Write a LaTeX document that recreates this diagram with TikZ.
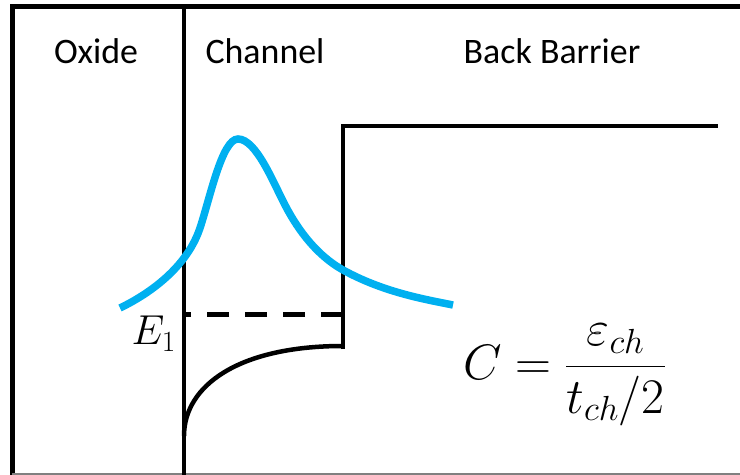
\RequirePackage{fix-cm}
\documentclass[tikz,border=0pt]{standalone}
\usepackage{amsmath}
\usepackage{fontspec}
\setmainfont{Carlito}
\usetikzlibrary{positioning,calc}
\definecolor{wfblue}{RGB}{0,176,240}
\tikzset{
	band/.style={line width=4.5bp, black},
	wave/.style={line width=7.5bp, wfblue},
	region/.style={font=\fontsize{36}{40}\selectfont, inner sep=0pt, anchor=base},
	mathlabel/.style={inner sep=0pt}
}

\begin{document}
\begin{tikzpicture}[
			x=1bp, y=-1bp,
			framestyle/.style={line width=5bp, black}
			]
			\useasboundingbox (0,0) rectangle (740,475);
			
			%% -- outer frame
			\coordinate (frbl) at (12,475);
			\coordinate (frtl) at (12,6.5);
			\coordinate (frtr) at (740,6.5);
			\draw[framestyle] (frbl) -- (frtl) -- (frtr);
			\draw[gray, line width=1.5bp] (12,474) -- (740,474);
			
			%% -- region labels
			\node[region] (oxide) at (96,64) {Oxide};
			\node[region] (channel) at (265,64) {Channel};
			\node[region] (barrier) at (552,64) {Back Barrier};
			
			%% -- oxide / channel interface
			\coordinate (ifctop) at (184,6.5);
			\coordinate (ifcbot) at (184,475);
			\draw[band] (ifctop) -- (ifcbot);
			
			%% -- back barrier step
			\coordinate (stepbot) at (343,349);
			\coordinate (steptop) at (343,126);
			\coordinate (barend) at (718,126);
			\draw[band] (stepbot) -- (steptop) -- (barend);
			
			%% -- conduction band edge in the channel
			\coordinate (cbstart) at (184,436);
			\coordinate (cbend) at (343,346);
			\draw[band] (cbstart) .. controls (184,386) and (238,346) .. (cbend);
			
			%% -- first subband level
			\coordinate (lvlright) at (343,315);
			\coordinate (lvlleft) at (184,315);
			\draw[band, line width=5bp, dash pattern=on 22bp off 16bp] (lvlright) -- (lvlleft);
			\node[mathlabel, anchor=base east, font=\fontsize{42}{46}\selectfont] (eone)
			at (176,345) {$E_1$};
			
			%% -- wavefunction
			\coordinate (wstart) at (120,308);
			\coordinate (wleft) at (200,228);
			\coordinate (wpeak) at (238,139);
			\coordinate (wright) at (285,205);
			\coordinate (wstep) at (343,270);
			\coordinate (wend) at (453,305);
			\draw[wave] (wstart) .. controls (155,291) and (188,264) .. (wleft)
			.. controls (210,198) and (222,139) .. (wpeak)
			.. controls (256,139) and (273,182) .. (wright)
			.. controls (299,232) and (318,256) .. (wstep)
			.. controls (383,292) and (423,299) .. (wend);
			
			%% -- capacitance
			\node[mathlabel, anchor=east, font=\fontsize{50}{56}\selectfont] (cap)
			at (666,375) {$C=\dfrac{\varepsilon_{ch}}{t_{ch}/2}$};
			
		\end{tikzpicture}
\end{document}
